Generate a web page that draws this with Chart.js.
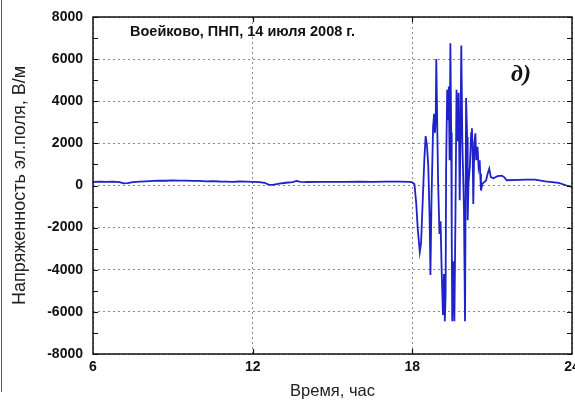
<!DOCTYPE html>
<html>
<head>
<meta charset="utf-8">
<script src="https://cdn.jsdelivr.net/npm/chart.js@4.4.0/dist/chart.umd.min.js"></script>
<style>
    html, body { margin: 0; padding: 0; background: #fff; }
    #wrap { width: 575px; height: 401px; }
</style>
</head>
<body>
<div id="wrap"><canvas id="fieldChart" width="575" height="401"></canvas></div>
<script>
// Time of day, hours
const hours = [
    6.0, 6.25, 6.5, 6.75, 7.0, 7.15, 7.3, 7.5, 7.75, 8.0, 8.25, 8.5, 8.75, 9.0, 9.25, 9.5, 9.75,
    10.0, 10.25, 10.5, 10.75, 11.0, 11.25, 11.5, 11.75, 12.0, 12.25, 12.45, 12.6, 12.75, 13.0,
    13.25, 13.5, 13.65, 13.8, 14.0, 14.5, 15.0, 15.5, 16.0, 16.5, 17.0, 17.5, 17.9, 18.0,
    18.08, 18.15, 18.2, 18.28, 18.33, 18.4, 18.45, 18.5, 18.55, 18.6, 18.65, 18.68, 18.72,
    18.78, 18.82, 18.85, 18.88, 18.9, 18.94, 18.97, 19.02, 19.06, 19.1, 19.15, 19.19, 19.22,
    19.25, 19.27, 19.31, 19.34, 19.37, 19.4, 19.43, 19.46, 19.48, 19.5, 19.54, 19.58, 19.62,
    19.66, 19.7, 19.74, 19.78, 19.81, 19.84, 19.88, 19.94, 19.98, 20.02, 20.06, 20.08, 20.11,
    20.16, 20.21, 20.24, 20.27, 20.29, 20.33, 20.37, 20.4, 20.45, 20.49, 20.53, 20.55, 20.58,
    20.63, 20.7, 20.77, 20.83, 20.89, 20.95, 21.05, 21.2, 21.36, 21.45, 21.55, 22.0, 22.3,
    22.6, 23.0, 23.5, 23.8, 24.0
];

// Electric field strength, V/m
const fieldValues = [
    170, 180, 175, 185, 160, 100, 110, 160, 180, 200, 215, 230, 225, 240, 230, 235, 220,
    215, 200, 205, 190, 185, 175, 190, 180, 175, 165, 130, 40, 30, 90,
    130, 160, 220, 175, 165, 170, 175, 170, 180, 175, 185, 180, 175, 150,
    60, -900, -2000, -3150, -2700, -400, 1200, 2350, 1900, 900, -1600, -4250, -700,
    2800, 3400, 2500, 3200, 6000, 2500, 100, -2300, -1700, -3900, -6150, -4200, -6450,
    -5200, 900, 4550, 3100, 4700, 1200, 6750, 2500, -2300, -6450, -3600, -6450, -1500,
    4550, 2100, 4400, -700, 2500, 6650, 2000, -1100, -6450, 4150, 2300, -1650, 80,
    880, 2480, 2720, 1200, -880, 2000, 2480, 1200, 1840, 880, 1200, 560, -240,
    80, 160, 240, 560, 800, 400, 340, 440, 470, 400, 250, 270, 280,
    280, 200, 120, 0, -70
];

const xTickValues = [6, 12, 18, 24];
const yTickValues = [-8000, -6000, -4000, -2000, 0, 2000, 4000, 6000, 8000];
const yMinorStep = 1000;

const titleText = 'Воейково, ПНП, 14 июля 2008 г.';
const panelText = 'д)';

// frame, inward ticks and the texts inside the plot
const framePlugin = {
    id: 'frame',
    afterDraw(chart) {
        const { ctx, chartArea: a, scales } = chart;
        ctx.save();
        ctx.strokeStyle = '#111';
        ctx.lineWidth = 1.5;
        ctx.strokeRect(a.left, a.top, a.right - a.left, a.bottom - a.top);

        ctx.lineWidth = 1.2;
        ctx.beginPath();
        for (let v = -8000; v <= 8000; v += yMinorStep) {
            const y = Math.round(scales.y.getPixelForValue(v)) + 0.5;
            ctx.moveTo(a.left, y); ctx.lineTo(a.left + 5, y);
            ctx.moveTo(a.right, y); ctx.lineTo(a.right - 5, y);
        }
        xTickValues.slice(1, -1).forEach(v => {
            const x = Math.round(scales.x.getPixelForValue(v)) + 0.5;
            ctx.moveTo(x, a.bottom); ctx.lineTo(x, a.bottom - 5);
            ctx.moveTo(x, a.top); ctx.lineTo(x, a.top + 5);
        });
        ctx.stroke();

        // scan edge line on the far left
        ctx.strokeStyle = '#555';
        ctx.lineWidth = 1;
        ctx.beginPath();
        ctx.moveTo(1.5, 0); ctx.lineTo(1.5, 392);
        ctx.stroke();

        ctx.fillStyle = '#111';
        ctx.textBaseline = 'middle';
        ctx.textAlign = 'left';
        ctx.font = 'bold 14.5px "Liberation Sans", Arial, sans-serif';
        ctx.fillText(titleText, a.left + 37, a.top + 15);

        ctx.font = 'italic bold 24px "Liberation Serif", "Times New Roman", serif';
        ctx.fillText(panelText, a.right - 61, a.top + 58);
        ctx.restore();
    }
};

const axisFont = { family: '"Liberation Sans", Arial, sans-serif', size: 14, weight: 'bold' };

new Chart(document.getElementById('fieldChart').getContext('2d'), {
    type: 'line',
    data: {
        datasets: [{
            label: 'E',
            data: hours.map((h, i) => ({ x: h, y: fieldValues[i] })),
            borderColor: '#1e22c8',
            borderWidth: 1.8,
            pointRadius: 0,
            tension: 0,
            fill: false
        }]
    },
    options: {
        responsive: false,
        animation: false,
        devicePixelRatio: 1,
        layout: { padding: { top: 17, right: 3, left: 0, bottom: 0 } },
        plugins: {
            legend: { display: false },
            tooltip: { enabled: false }
        },
        scales: {
            x: {
                type: 'linear',
                min: 6,
                max: 24,
                afterBuildTicks: scale => { scale.ticks = xTickValues.map(v => ({ value: v })); },
                afterFit: scale => {
                    scale.height = 47;
                    scale.paddingLeft = 0;
                    scale.paddingRight = 0;
                },
                ticks: {
                    color: '#111',
                    font: axisFont,
                    padding: 5,
                    maxRotation: 0,
                    autoSkip: false
                },
                grid: {
                    drawTicks: false,
                    color: '#8a8a8a',
                    lineWidth: 1
                },
                border: { display: false, dash: [2, 3] },
                title: {
                    display: true,
                    text: 'Время, час',
                    color: '#222',
                    font: { family: '"Liberation Sans", Arial, sans-serif', size: 16.5 },
                    padding: { top: 0, bottom: 0 }
                }
            },
            y: {
                min: -8000,
                max: 8000,
                afterBuildTicks: scale => { scale.ticks = yTickValues.map(v => ({ value: v })); },
                afterFit: scale => {
                    scale.width = 93;
                    scale.paddingTop = 0;
                    scale.paddingBottom = 0;
                },
                ticks: {
                    color: '#111',
                    font: axisFont,
                    padding: 10,
                    callback: v => String(v)
                },
                grid: {
                    drawTicks: false,
                    color: '#8a8a8a',
                    lineWidth: 1
                },
                border: { display: false, dash: [2, 3] },
                title: {
                    display: true,
                    text: 'Напряженность эл.поля, В/м',
                    color: '#222',
                    font: { family: '"Liberation Sans", Arial, sans-serif', size: 18 },
                    padding: { top: 9, bottom: 0 }
                }
            }
        }
    },
    plugins: [framePlugin]
});
</script>
</body>
</html>
